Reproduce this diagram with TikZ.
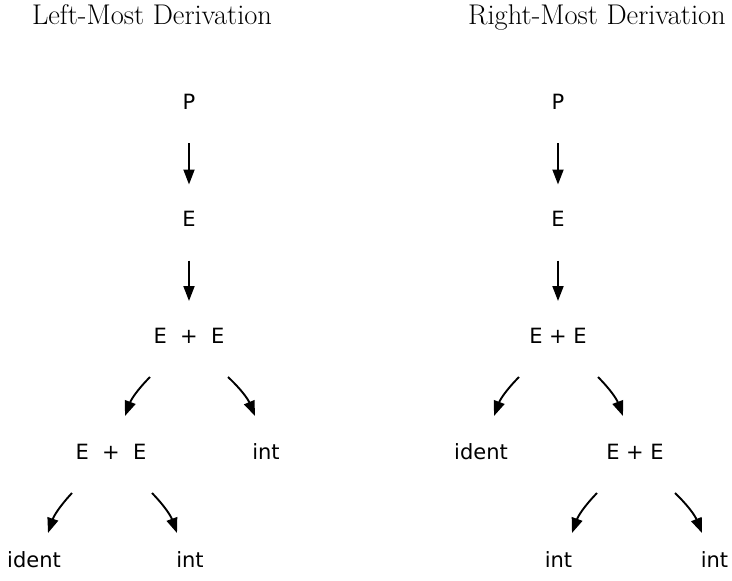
\documentclass[tikz,border=0pt]{standalone}
\usepackage{fontspec}
\newfontfamily\treefont{DejaVu Sans}
\usetikzlibrary{arrows.meta}

\begin{document}
\begin{tikzpicture}[x=1pt, y=-1pt,
    every node/.style={inner sep=0pt, anchor=base},
    heading/.style={font=\fontsize{28.5}{32}\selectfont},
    sym/.style={font=\treefont\fontsize{21}{25}\selectfont},
    derive/.style={-{Triangle[length=15pt,width=11pt]}, line width=1.9pt}]
  \useasboundingbox (0,0) rectangle (732,581);
  % headings
  \node[heading] (lhead) at (152,24) {Left-Most Derivation};
  \node[heading] (rhead) at (597,24) {Right-Most Derivation};
  % left-most derivation
  \node[sym] (lp) at (189,109) {P};
  \node[sym] (le) at (189,226.5) {E};
  \node[sym] (lsum) at (189,343) {E~~+~~E};
  \node[sym] (lsumb) at (111,459) {E~~+~~E};
  \node[sym] (lint) at (266,459) {int};
  \node[sym] (lident) at (34,567) {ident};
  \node[sym] (lintb) at (190,567) {int};
  \draw[derive] ([yshift=-34pt]lp.base) -- ([yshift=42pt]le.base);
  \draw[derive] ([yshift=-34pt]le.base) -- ([yshift=42pt]lsum.base);
  \draw[derive] ([xshift=-39pt,yshift=-34pt]lsum.base) to[bend right=12] ([xshift=14pt,yshift=43pt]lsumb.base);
  \draw[derive] ([xshift=39pt,yshift=-34pt]lsum.base) to[bend left=12] ([xshift=-11pt,yshift=43pt]lint.base);
  \draw[derive] ([xshift=-39pt,yshift=-34pt]lsumb.base) to[bend right=12] ([xshift=14pt,yshift=34pt]lident.base);
  \draw[derive] ([xshift=41pt,yshift=-34pt]lsumb.base) to[bend left=12] ([xshift=-13pt,yshift=34pt]lintb.base);
  % right-most derivation
  \node[sym] (rp) at (558,109) {P};
  \node[sym] (re) at (558,226.5) {E};
  \node[sym] (rsum) at (558,343) {E + E};
  \node[sym] (rident) at (481,459) {ident};
  \node[sym] (rsumb) at (635,459) {E + E};
  \node[sym] (rint) at (558.5,567) {int};
  \node[sym] (rintb) at (714.5,567) {int};
  \draw[derive] ([yshift=-34pt]rp.base) -- ([yshift=42pt]re.base);
  \draw[derive] ([yshift=-34pt]re.base) -- ([yshift=42pt]rsum.base);
  \draw[derive] ([xshift=-39pt,yshift=-34pt]rsum.base) to[bend right=12] ([xshift=13pt,yshift=43pt]rident.base);
  \draw[derive] ([xshift=40pt,yshift=-34pt]rsum.base) to[bend left=12] ([xshift=-12pt,yshift=43pt]rsumb.base);
  \draw[derive] ([xshift=-38pt,yshift=-34pt]rsumb.base) to[bend right=12] ([xshift=13.5pt,yshift=34pt]rint.base);
  \draw[derive] ([xshift=40pt,yshift=-34pt]rsumb.base) to[bend left=12] ([xshift=-12.5pt,yshift=34pt]rintb.base);
\end{tikzpicture}
\end{document}
